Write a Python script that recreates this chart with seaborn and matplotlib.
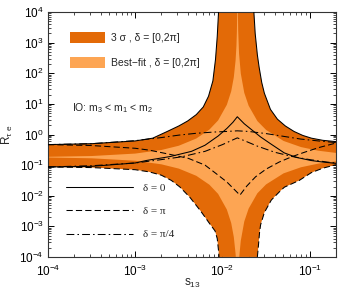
import numpy as np
import pandas as pd
import seaborn as sns
import matplotlib
matplotlib.use('Agg')
import matplotlib.pyplot as plt
from matplotlib.patches import Patch
from matplotlib.lines import Line2D
from matplotlib.ticker import LogLocator, NullFormatter

# all values are log10 exponents: (log10 s13, log10 R)
# 3 sigma band, delta in [0, 2pi]
dark_up_l_x = [-4.0, -3.5, -3.0, -2.8, -2.64, -2.5, -2.4, -2.3, -2.22, -2.16, -2.11, -2.08, -2.06, -2.045]
dark_up_l_y = [-0.33, -0.30, -0.21, -0.12, 0.09, 0.28, 0.44, 0.65, 0.90, 1.25, 1.75, 2.45, 3.2, 4.0]
dark_up_r_x = [-1.64, -1.625, -1.60, -1.58, -1.55, -1.52, -1.45, -1.37, -1.28, -1.18, -1.08, -0.98, -0.85, -0.674]
dark_up_r_y = [4.0, 3.3, 2.6, 2.2, 1.7, 1.35, 0.82, 0.5, 0.28, 0.10, -0.03, -0.12, -0.19, -0.24]
dark_lo_l_x = [-4.0, -3.5, -3.0, -2.84, -2.7, -2.586, -2.49, -2.374, -2.25, -2.15, -2.085, -2.06, -2.045, -2.04]
dark_lo_l_y = [-1.06, -1.08, -1.15, -1.22, -1.33, -1.5, -1.71, -2.05, -2.5, -2.9, -3.15, -3.4, -3.8, -4.0]
dark_lo_r_x = [-1.60, -1.59, -1.575, -1.563, -1.52, -1.44, -1.35, -1.29, -1.12, -0.984, -0.85, -0.674]
dark_lo_r_y = [-4.0, -3.7, -3.2, -2.95, -2.55, -2.14, -1.88, -1.72, -1.5, -1.25, -1.1, -0.97]

# best-fit band, delta in [0, 2pi]
light_up_l_x = [-4.0, -3.5, -3.0, -2.7, -2.5, -2.3, -2.15, -2.05, -1.95, -1.9, -1.87, -1.85, -1.84, -1.835, -1.831]
light_up_l_y = [-0.728, -0.703, -0.623, -0.506, -0.366, -0.131, 0.16, 0.46, 0.97, 1.41, 1.87, 2.41, 2.89, 3.33, 4.0]
light_up_r_x = [-1.823, -1.82, -1.81, -1.79, -1.75, -1.7, -1.6, -1.5, -1.3, -1.1, -0.9, -0.674]
light_up_r_y = [4.0, 3.41, 2.65, 1.99, 1.36, 0.94, 0.44, 0.15, -0.21, -0.41, -0.53, -0.61]
light_lo_l_x = [-4.0, -3.5, -3.0, -2.7, -2.5, -2.3, -2.15, -2.05, -1.95, -1.9, -1.87, -1.85, -1.847]
light_lo_l_y = [-0.752, -0.777, -0.857, -0.974, -1.114, -1.349, -1.64, -1.94, -2.45, -2.89, -3.35, -3.89, -4.0]
light_lo_r_x = [-1.808, -1.79, -1.75, -1.7, -1.6, -1.5, -1.3, -1.1, -0.9, -0.674]
light_lo_r_y = [-4.0, -3.47, -2.84, -2.42, -1.92, -1.63, -1.27, -1.07, -0.95, -0.87]

# fixed-delta curves (3 sigma envelopes)
d0_lo_x = [-4.0, -3.5, -3.0, -2.876, -2.6, -2.355, -2.2, -2.05, -1.949, -1.88, -1.83, -1.75, -1.65, -1.563, -1.45, -1.292, -1.15, -0.984, -0.85, -0.674]
d0_lo_y = [-1.06, -1.04, -0.93, -0.85, -0.72, -0.55, -0.35, -0.05, 0.2, 0.4, 0.58, 0.35, 0.12, -0.08, -0.3, -0.6, -0.75, -0.85, -0.9, -0.95]
dpi_up_x = [-4.0, -3.5, -3.0, -2.84, -2.6, -2.39, -2.2, -2.085, -1.95, -1.8, -1.72, -1.62, -1.5, -1.35, -1.2, -1.06, -0.9, -0.674]
dpi_up_y = [-0.33, -0.36, -0.45, -0.51, -0.65, -0.78, -1.0, -1.25, -1.55, -1.98, -1.68, -1.38, -1.13, -0.9, -0.72, -0.58, -0.43, -0.26]
dq_up_x = [-4.0, -3.5, -3.0, -2.7, -2.5, -2.3, -2.1, -1.95, -1.83, -1.7, -1.5, -1.3, -1.1, -0.9, -0.674]
dq_up_y = [-0.33, -0.30, -0.2, -0.1, -0.02, 0.04, 0.08, 0.1, 0.12, 0.1, 0.03, -0.06, -0.15, -0.21, -0.27]
dq_lo_x = [-4.0, -3.5, -3.0, -2.7, -2.47, -2.2, -2.0, -1.9, -1.83, -1.75, -1.6, -1.4, -1.2, -1.0, -0.8, -0.674]
dq_lo_y = [-1.06, -1.02, -0.93, -0.82, -0.73, -0.55, -0.33, -0.2, -0.11, -0.2, -0.38, -0.58, -0.72, -0.82, -0.9, -0.94]

dark_orange = '#E36A07'
light_orange = '#FDA553'


def band(up_l_x, up_l_y, up_r_x, up_r_y, lo_l_x, lo_l_y, lo_r_x, lo_r_y):
    xs = list(up_l_x) + list(up_r_x) + list(lo_r_x)[::-1] + list(lo_l_x)[::-1]
    ys = list(up_l_y) + list(up_r_y) + list(lo_r_y)[::-1] + list(lo_l_y)[::-1]
    return 10.0 ** np.array(xs), 10.0 ** np.array(ys)


def curve(xs, ys):
    return pd.DataFrame({'s13': 10.0 ** np.array(xs), 'R': 10.0 ** np.array(ys)})


sns.set_style('ticks')
plt.rcParams['font.family'] = ['Liberation Sans', 'DejaVu Sans']
plt.rcParams['mathtext.fontset'] = 'custom'
plt.rcParams['mathtext.rm'] = 'Liberation Sans'
plt.rcParams['mathtext.it'] = 'Liberation Sans'
plt.rcParams['mathtext.sf'] = 'Liberation Sans'

fig = plt.figure(figsize=(3.38, 2.94), dpi=100)
ax = fig.add_axes([0.142, 0.126, 0.852, 0.833])

bx, by = band(dark_up_l_x, dark_up_l_y, dark_up_r_x, dark_up_r_y,
              dark_lo_l_x, dark_lo_l_y, dark_lo_r_x, dark_lo_r_y)
ax.fill(bx, by, color=dark_orange, lw=0, zorder=1)
bx, by = band(light_up_l_x, light_up_l_y, light_up_r_x, light_up_r_y,
              light_lo_l_x, light_lo_l_y, light_lo_r_x, light_lo_r_y)
ax.fill(bx, by, color=light_orange, lw=0, zorder=2)

solid = '-'
dashed = (0, (6, 3))
dashdot = (0, (7.5, 3, 1.5, 3))
lines = [
    (dark_up_l_x, dark_up_l_y, solid),
    (dark_up_r_x, dark_up_r_y, solid),
    (d0_lo_x, d0_lo_y, solid),
    (dark_lo_l_x, dark_lo_l_y, dashed),
    (dark_lo_r_x, dark_lo_r_y, dashed),
    (dpi_up_x, dpi_up_y, dashed),
    (dq_up_x, dq_up_y, dashdot),
    (dq_lo_x, dq_lo_y, dashdot),
]
for xs, ys, ls in lines:
    sns.lineplot(data=curve(xs, ys), x='s13', y='R', sort=False, estimator=None,
                 color='black', lw=0.75, linestyle=ls, ax=ax, zorder=3)

ax.set_xscale('log')
ax.set_yscale('log')
ax.set_xlim(1e-4, 0.2)
ax.set_ylim(1e-4, 1e4)
ax.yaxis.set_major_locator(LogLocator(base=10, numticks=20))
ax.yaxis.set_minor_locator(LogLocator(base=10, subs=np.arange(2, 10), numticks=100))
ax.yaxis.set_minor_formatter(NullFormatter())
ax.xaxis.set_major_locator(LogLocator(base=10, numticks=20))
ax.xaxis.set_minor_locator(LogLocator(base=10, subs=np.arange(2, 10), numticks=100))
ax.xaxis.set_minor_formatter(NullFormatter())
ax.tick_params(which='both', direction='in', top=True, right=True, labelsize=8.5, colors='black')
ax.tick_params(which='major', length=4, width=0.7)
ax.tick_params(axis='x', which='major', pad=5)
ax.tick_params(axis='y', which='major', pad=3)
ax.tick_params(which='minor', length=2, width=0.5)
for sp in ax.spines.values():
    sp.set_linewidth(0.8)
    sp.set_color('#333333')

ax.set_xlabel('s$_{13}$', fontsize=8.5)
ax.set_ylabel(r'R$_{\tau\ e}$', fontsize=8.5)
ax.xaxis.set_label_coords(0.5, -0.08)
ax.yaxis.set_label_coords(-0.115, 0.5)

leg1 = ax.legend(handles=[Patch(color=dark_orange, lw=0), Patch(color=light_orange, lw=0)],
                 labels=['3 σ , δ = [0,2π]', 'Best−fit , δ = [0,2π]'],
                 loc='upper left', bbox_to_anchor=(0.076, 0.92), frameon=False,
                 fontsize=7.5, handlelength=3.4, handleheight=1.25, handletextpad=0.55,
                 labelspacing=1.35, borderpad=0, borderaxespad=0)
ax.add_artist(leg1)
ax.text(0.083, 0.608, 'IO: m$_3$ < m$_1$ < m$_2$', transform=ax.transAxes,
        fontsize=7.5, va='center', ha='left')
ax.legend(handles=[Line2D([], [], color='black', lw=0.75, linestyle=solid),
                   Line2D([], [], color='black', lw=0.75, linestyle=dashed),
                   Line2D([], [], color='black', lw=0.75, linestyle=dashdot)],
          labels=['δ = 0', 'δ = π', 'δ = π/4'],
          loc='upper left', bbox_to_anchor=(0.062, 0.30), frameon=False,
          prop={'family': 'Liberation Serif', 'size': 8}, handlelength=6.0,
          handletextpad=0.9, labelspacing=1.2, borderpad=0, borderaxespad=0)

fig.savefig('out.png', dpi=100)
